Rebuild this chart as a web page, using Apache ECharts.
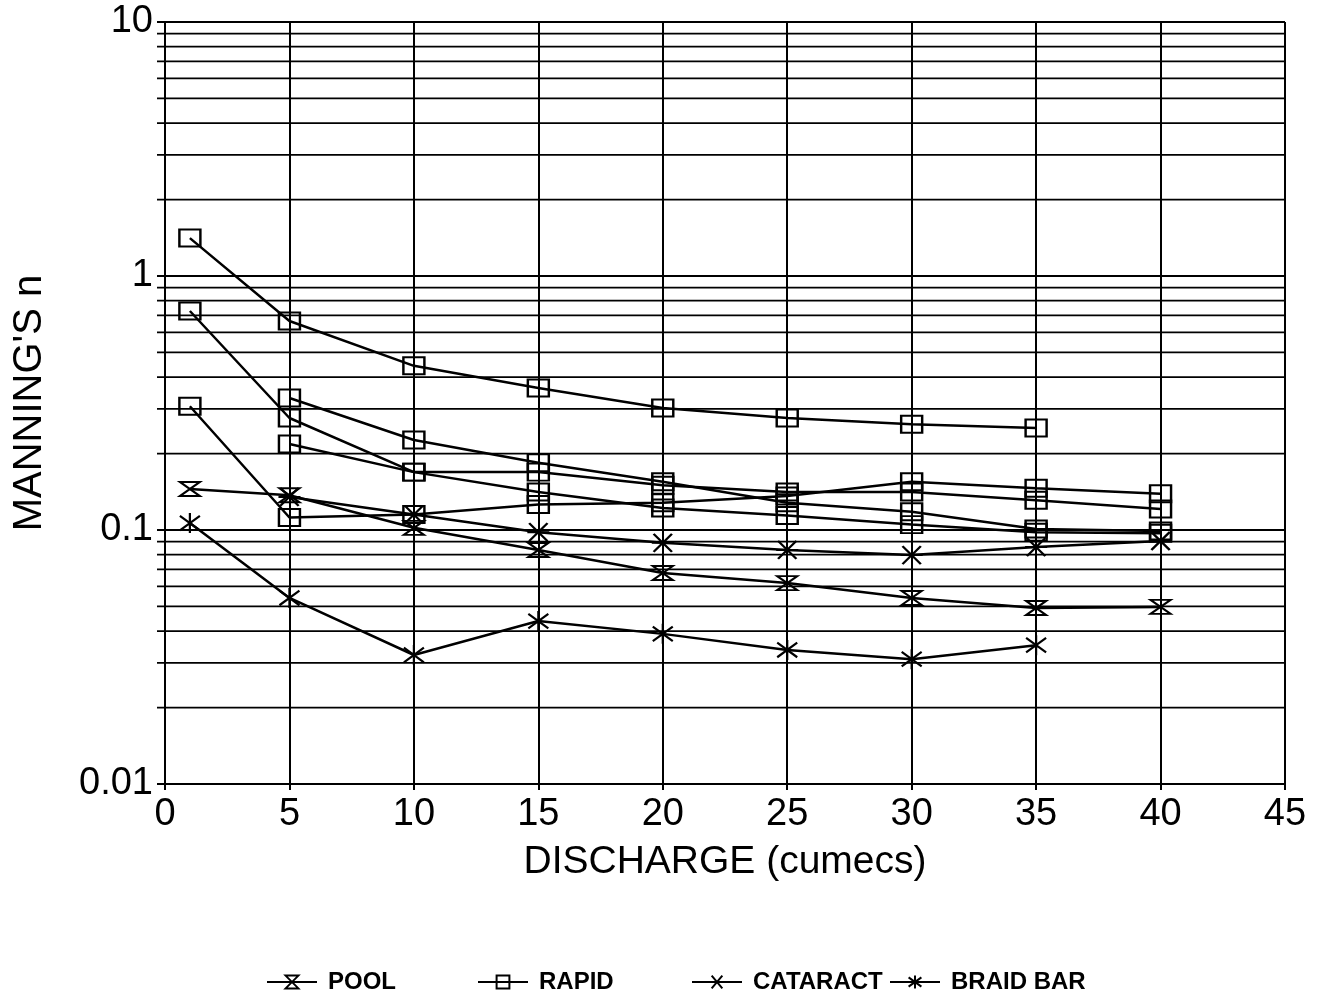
<!DOCTYPE html>
<html>
<head>
<meta charset="utf-8">
<title>Manning's n vs discharge</title>
<script src="https://cdn.jsdelivr.net/npm/echarts@6/dist/echarts.min.js"></script>
<style>
  html, body { margin: 0; padding: 0; background: #fff; }
  #chart { width: 1320px; height: 999px; }
</style>
</head>
<body>
<div id="chart"></div>
<script>
// Discharge (cumecs) at which Manning's n was evaluated
const discharge = [1, 5, 10, 15, 20, 25, 30, 35, 40];

// Manning's n per reach (null = not evaluated at that discharge)
const pool      = [0.145, 0.137, 0.102, 0.0834, 0.0677, 0.0618, 0.054, 0.0493, 0.0498];
const rapid1    = [1.41, 0.665, 0.443, 0.362, 0.302, 0.276, 0.261, 0.252, null];
const rapid2    = [0.728, 0.276, 0.169, 0.141, 0.122, 0.114, 0.105, 0.098, 0.097];
const rapid3    = [0.307, 0.112, 0.115, 0.126, 0.128, 0.136, 0.155, 0.146, 0.139];
const rapid4    = [null, 0.331, 0.226, 0.184, 0.155, 0.128, 0.118, 0.101, 0.099];
const rapid5    = [null, 0.218, 0.169, 0.169, 0.150, 0.141, 0.141, 0.131, 0.121];
const cataract  = [null, 0.135, 0.115, 0.098, 0.089, 0.0835, 0.0797, 0.0857, 0.0905];
const braidBar  = [0.1065, 0.054, 0.0322, 0.0438, 0.039, 0.0337, 0.031, 0.0352, null];

// Axis ticks
const xTicks = [0, 5, 10, 15, 20, 25, 30, 35, 40, 45];
const yTickLabels = { 0.01: '0.01', 0.1: '0.1', 1: '1', 10: '10' };
// Intermediate decade lines (2..9 of each decade)
const minorGridValues = [
  0.02, 0.03, 0.04, 0.05, 0.06, 0.07, 0.08, 0.09,
  0.2, 0.3, 0.4, 0.5, 0.6, 0.7, 0.8, 0.9,
  2, 3, 4, 5, 6, 7, 8, 9
];

const FONT = '"Liberation Sans", Arial, Helvetica, sans-serif';

const SYM_POOL  = 'path://M-10,-7 L10,-7 L-10,7 L10,7 Z';
const SYM_CAT   = 'path://M-10,-8 L10,8 M-10,8 L10,-8 M-12,0 L12,0';
const SYM_BRAID = 'path://M-10,-8 L10,8 M-10,8 L10,-8 M0,-11 L0,11';

function pairs(vals) {
  const out = [];
  vals.forEach((v, i) => { if (v !== null) out.push([discharge[i], v]); });
  return out;
}

function lineSeries(name, vals, symbol, size) {
  return {
    name: name,
    type: 'line',
    data: pairs(vals),
    symbol: symbol,
    symbolSize: size,
    showAllSymbol: true,
    z: 5,
    lineStyle: { color: '#000', width: 2.5 },
    itemStyle: { color: 'rgba(0,0,0,0)', borderColor: '#000', borderWidth: 2.2 },
    emphasis: { disabled: true },
    animation: false
  };
}

const chart = echarts.init(document.getElementById('chart'), null, { renderer: 'canvas' });

const legendBase = {
  orient: 'horizontal',
  top: 965,
  itemWidth: 50,
  itemHeight: 16,
  textStyle: { fontFamily: FONT, fontSize: 24, fontWeight: 'bold', color: '#000', padding: [0, 0, 0, 6] },
  selectedMode: false
};

chart.setOption({
  animation: false,
  backgroundColor: '#fff',
  grid: { left: 165, right: 35, top: 22, bottom: 215, containLabel: false },
  legend: [
    Object.assign({}, legendBase, { left: 261, data: ['POOL'] }),
    Object.assign({}, legendBase, { left: 472, data: ['RAPID'] }),
    Object.assign({}, legendBase, { left: 686, data: ['CATARACT'] }),
    Object.assign({}, legendBase, { left: 884, data: ['BRAID BAR'] })
  ],
  xAxis: {
    type: 'value',
    min: 0,
    max: 45,
    interval: 5,
    name: 'DISCHARGE (cumecs)',
    nameLocation: 'middle',
    nameGap: 59,
    nameTextStyle: { fontFamily: FONT, fontSize: 39, color: '#000' },
    axisLine: { show: true, lineStyle: { color: '#000', width: 2 } },
    axisTick: { show: true, inside: false, length: 6, lineStyle: { color: '#000', width: 2 } },
    axisLabel: {
      fontFamily: FONT, fontSize: 38, color: '#000', margin: 12,
      formatter: v => xTicks.includes(v) ? String(v) : ''
    },
    splitLine: { show: true, showMinLine: true, showMaxLine: true, lineStyle: { color: '#000', width: 2 } }
  },
  yAxis: {
    type: 'log',
    logBase: 10,
    min: 0.01,
    max: 10,
    name: "MANNING'S n",
    nameLocation: 'middle',
    nameRotate: 90,
    nameGap: 115,
    nameTextStyle: { fontFamily: FONT, fontSize: 40, color: '#000' },
    axisLine: { show: true, lineStyle: { color: '#000', width: 2 } },
    axisTick: { show: true, inside: false, length: 8, lineStyle: { color: '#000', width: 2 } },
    axisLabel: {
      fontFamily: FONT, fontSize: 38, color: '#000', margin: 12,
      formatter: v => {
        const key = Object.keys(yTickLabels).find(k => Math.abs(+k - v) / v < 1e-6);
        return key ? yTickLabels[key] : '';
      }
    },
    splitLine: { show: true, showMinLine: true, showMaxLine: true, lineStyle: { color: '#000', width: 2 } }
  },
  series: [
    {
      // intermediate horizontal rules with short outer ticks on the value axis
      type: 'custom',
      silent: true,
      z: 1,
      clip: false,
      data: minorGridValues.map(v => [0, v]),
      renderItem: function (params, api) {
        const v = api.value(1);
        const a = api.coord([0, v]);
        const b = api.coord([45, v]);
        return {
          type: 'line',
          shape: { x1: a[0] - 8, y1: a[1], x2: b[0], y2: b[1] },
          style: { stroke: '#000', lineWidth: 1.8 }
        };
      },
      animation: false
    },
    lineSeries('POOL', pool, SYM_POOL, [20, 14]),
    lineSeries('RAPID', rapid1, 'rect', [21, 17]),
    lineSeries('RAPID', rapid2, 'rect', [21, 17]),
    lineSeries('RAPID', rapid3, 'rect', [21, 17]),
    lineSeries('RAPID', rapid4, 'rect', [21, 17]),
    lineSeries('RAPID', rapid5, 'rect', [21, 17]),
    lineSeries('CATARACT', cataract, SYM_CAT, [22, 18]),
    lineSeries('BRAID BAR', braidBar, SYM_BRAID, [20, 20])
  ]
});
</script>
</body>
</html>
